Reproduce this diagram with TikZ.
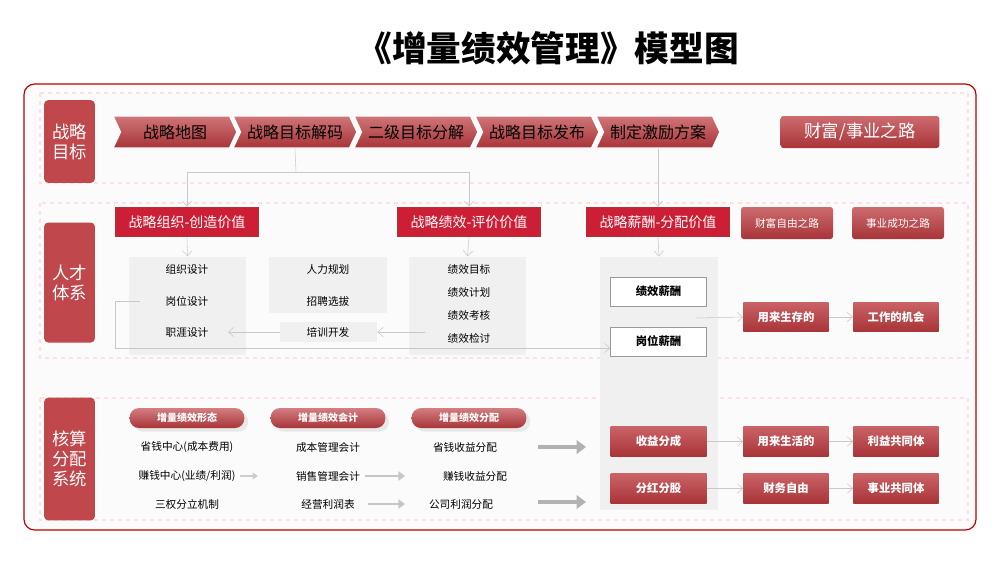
\documentclass[tikz,border=0pt]{standalone}
\usepackage{fontspec}
\setmainfont{Noto Sans CJK SC}
\usetikzlibrary{arrows.meta,shapes.symbols,shadows}
\definecolor{rd}{HTML}{C0474B}
\definecolor{rdd}{HTML}{A83438}
\definecolor{hr}{HTML}{CC1F36}
\definecolor{gb}{HTML}{F0F0F0}
\definecolor{ln}{HTML}{C8C8C8}
\tikzset{
 lab/.style={fill=rd,rounded corners=3pt,text=white,font=\fontsize{13}{15}\selectfont,align=center,inner sep=0pt},
 chev/.style={signal,signal to=east,signal from=west,signal pointer angle=130,top color=rd!75,bottom color=rdd,draw=white,line width=1pt,minimum height=24pt,minimum width=93pt,font=\fontsize{12}{14}\selectfont,inner sep=2pt},
 hdr/.style={fill=hr,draw=rdd,line width=0.8pt,text=white,minimum width=107pt,minimum height=22pt,font=\fontsize{10.5}{12}\selectfont,inner sep=0pt},
 rbx/.style={top color=rd!80,bottom color=rdd,text=white,rounded corners=2pt,minimum width=69pt,minimum height=24pt,font=\fontsize{8}{10}\selectfont,inner sep=0pt},
 sbx/.style={top color=rd!85,bottom color=rdd,text=white,minimum width=64pt,minimum height=22pt,font=\bfseries\fontsize{8.5}{10}\selectfont,inner sep=0pt},
 wbx/.style={fill=white,draw=gray!80,minimum width=72pt,minimum height=22pt,font=\bfseries\fontsize{8.5}{10}\selectfont,inner sep=0pt},
 gray/.style={fill=gb,inner sep=0pt},
 pill/.style={top color=rd!70,bottom color=rdd,text=white,rounded corners=7pt,minimum width=86pt,minimum height=15pt,font=\bfseries\fontsize{7.5}{9}\selectfont,inner sep=0pt,drop shadow={opacity=0.15}},
 it/.style={font=\fontsize{8}{10}\selectfont,inner sep=1pt},
 ar/.style={draw=ln,-{Straight Barb[length=4pt,width=7pt]}},
 big/.style={draw=gray!60,line width=3pt,-{Triangle[length=7pt,width=10pt]}},
 dframe/.style={draw=red!12,dashed,line width=0.8pt}
}
\begin{document}
\begin{tikzpicture}[x=0.75pt,y=-0.75pt]
\useasboundingbox (0,0) rectangle (1000,562);
\fill[white] (0,0) rectangle (1000,562);
\node[font=\bfseries\fontsize{26}{30}\selectfont] (title) at (548,48) {《增量绩效管理》模型图};
\draw[red!75!black,line width=0.9pt,rounded corners=8pt,fill=gray!3] (24,84) rectangle (976,530);
\draw[dframe] (40,93) rectangle (968,183);
\draw[dframe] (40,203) rectangle (968,358);
\draw[dframe] (40,398) rectangle (968,520);
% left labels
\node[lab,minimum width=38pt,minimum height=62pt] (l1) at (69.5,141.5) {战略\\目标};
\node[lab,minimum width=38pt,minimum height=90pt] (l2) at (69.5,282.5) {人才\\体系};
\node[lab,minimum width=38pt,minimum height=92pt] (l3) at (69.5,459) {核算\\分配\\系统};
% chevrons
\node[chev] (c1) at (175,132) {战略地图};
\node[chev] (c2) at (295,132) {战略目标解码};
\node[chev] (c3) at (416,132) {二级目标分解};
\node[chev] (c4) at (537,132) {战略目标发布};
\node[chev] (c5) at (658,132) {制定激励方案};
\node[rbx,minimum width=119pt,font=\fontsize{13}{15}\selectfont] (road) at (860,132) {财富/事业之路};
% headers
\node[hdr] (h1) at (187,222) {战略组织-创造价值};
\node[hdr] (h2) at (469,222) {战略绩效-评价价值};
\node[hdr] (h3) at (658,222) {战略薪酬-分配价值};
\node[rbx] (f1) at (787,223) {财富自由之路};
\node[rbx] (f2) at (898,223) {事业成功之路};
\coordinate (j) at (296,172);
\draw[draw=ln] (c2.south) -- (j);
\draw[ar] (j) -| (h1.north);
\draw[ar] (j) -| (h2.north);
\draw[ar] (c5.south) -- (h3.north);
% gray boxes
\node[gray,minimum width=88pt,minimum height=74pt] (g1) at (187.5,306) {};
\node[gray,minimum width=88pt,minimum height=42pt] (g2) at (328,285) {};
\node[gray,minimum width=73pt,minimum height=15pt] (g3) at (328.5,332) {};
\node[gray,minimum width=88pt,minimum height=74pt] (g4) at (467.5,306) {};
\node[gray,minimum width=88pt,minimum height=190pt] (g5) at (659,383.5) {};
\draw[ar] (h1.south) -- (g1.north);
\draw[ar] (h2.south) -- (g4.north);
\draw[ar] (h3.south) -- (g5.north);
\node[it] (a1) at (187,269) {组织设计};
\node[it] (a2) at (187,301) {岗位设计};
\node[it] (a3) at (187,332) {职涯设计};
\node[it] (b1) at (328,269) {人力规划};
\node[it] (b2) at (328,301) {招聘选拔};
\node[it] (b3) at (328,332) {培训开发};
\node[it] (d1) at (469,269) {绩效目标};
\node[it] (d2) at (469,292) {绩效计划};
\node[it] (d3) at (469,315) {绩效考核};
\node[it] (d4) at (469,338) {绩效检讨};
\node[wbx] (w1) at (658.5,291.5) {绩效薪酬};
\node[wbx] (w2) at (658.5,341.5) {岗位薪酬};
\draw[ar] (425,332) -- (g3.east);
\draw[ar] (g3.west) -- (228,332);
\draw[ar] (140,301) -- (115,301) -- (115,348) -- (w2.west |- 0,348);
\node[sbx] (s1) at (786,317) {用来生存的};
\node[sbx] (s2) at (896,317) {工作的机会};
\draw[ar] (696,318) -- (s1.west);
\draw[ar] (s1.east) -- (s2.west);
% row 3
\node[pill] (p1) at (187,418) {增量绩效形态};
\node[pill] (p2) at (328,418) {增量绩效会计};
\node[pill] (p3) at (469,418) {增量绩效分配};
\node[it] (e1) at (187,447) {省钱中心(成本费用)};
\node[it] (e2) at (187,476) {赚钱中心(业绩/利润)};
\node[it] (e3) at (187,504) {三权分立机制};
\node[it] (k1) at (328,447) {成本管理会计};
\node[it] (k2) at (328,476) {销售管理会计};
\node[it] (k3) at (328,504) {经营利润表};
\node[it] (m1) at (465,447) {省钱收益分配};
\node[it] (m2) at (475,476) {赚钱收益分配};
\node[it] (m3) at (461,504) {公司利润分配};
\draw[draw=gray!40,line width=1.5pt,-{Triangle[length=4pt,width=5pt]}] (e2.east) ++(3,0) -- ++(18,0);
\draw[draw=gray!45,line width=2pt,-{Triangle[length=5pt,width=7pt]}] (k2.east) ++(3,0) -- (405,476);
\draw[draw=gray!45,line width=2pt,-{Triangle[length=5pt,width=7pt]}] (k3.east) ++(12,0) -- (405,504);
\node[sbx,minimum width=72pt] (r1) at (658.5,441.5) {收益分成};
\node[sbx,minimum width=72pt] (r2) at (658.5,488.5) {分红分股};
\draw[big] (538,447) -- (586,447);
\draw[big] (538,502) -- (586,502);
\node[sbx] (t1) at (786,441.5) {用来生活的};
\node[sbx] (t2) at (896,441.5) {利益共同体};
\node[sbx] (u1) at (786,488.5) {财务自由};
\node[sbx] (u2) at (896,488.5) {事业共同体};
\draw[ar] (r1.east) -- (t1.west);
\draw[ar] (t1.east) -- (t2.west);
\draw[ar] (r2.east) -- (u1.west);
\draw[ar] (u1.east) -- (u2.west);
\end{tikzpicture}
\end{document}
